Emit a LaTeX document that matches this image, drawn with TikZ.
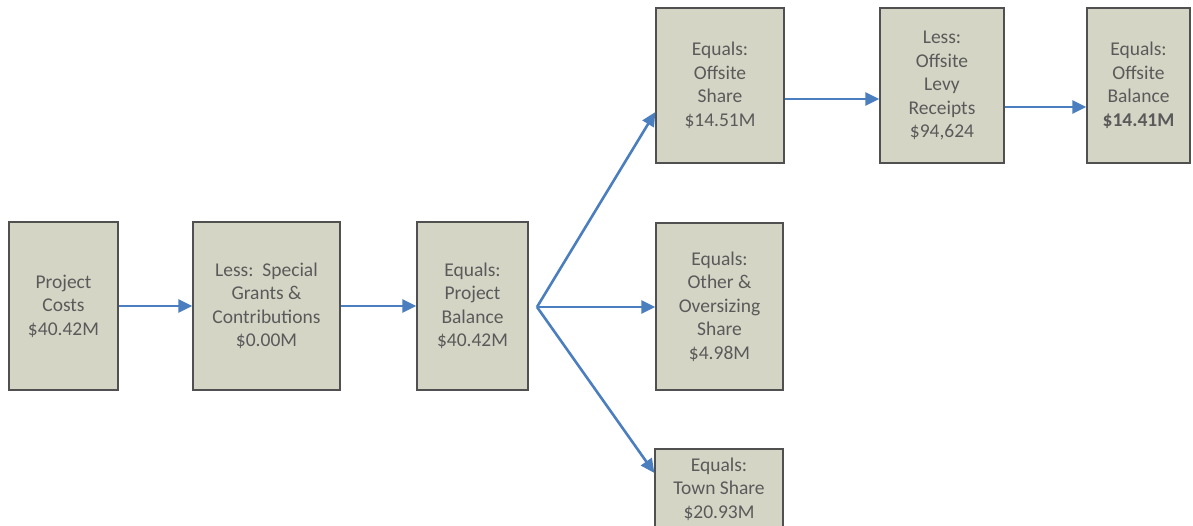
\documentclass[tikz,border=0pt]{standalone}
\usepackage{fontspec}
\setmainfont{Carlito}
\usetikzlibrary{arrows.meta}
\definecolor{boxfill}{RGB}{213,213,198}
\definecolor{boxline}{RGB}{80,80,80}
\definecolor{boxtext}{RGB}{90,90,90}
\definecolor{flow}{RGB}{74,126,190}
\tikzset{
  stage/.style={draw=boxline, line width=1.3pt, fill=boxfill, text=boxtext,
    align=center, inner sep=0pt,
    font=\fontsize{19.5pt}{23.5pt}\selectfont},
  flowarrow/.style={draw=flow, line width=2.6pt,
    -{Triangle[length=14pt,width=13pt]}}
}
\begin{document}
\begin{tikzpicture}[x=1pt,y=-1pt]
\clip (0,0) rectangle (1193,526);
\fill[white] (0,0) rectangle (1193,526);

% main row
\node[stage, minimum width=109pt, minimum height=168pt] (costs) at (63.5,306)
  {Project\\Costs\\\$40.42M};
\node[stage, minimum width=147pt, minimum height=168pt] (grants) at (266.5,306)
  {Less:\ \ Special\\Grants \&\\Contributions\\\$0.00M};
\node[stage, minimum width=111pt, minimum height=168pt] (balance) at (472.5,306)
  {Equals:\\Project\\Balance\\\$40.42M};

% offsite branch
\node[stage, minimum width=128pt, minimum height=155pt] (offshare) at (720,85.5)
  {Equals:\\Offsite\\Share\\\$14.51M};
\node[stage, minimum width=124pt, minimum height=155pt] (levy) at (942,85.5)
  {Less:\\Offsite\\Levy\\Receipts\\\$94,624};
\node[stage, minimum width=103pt, minimum height=155pt] (offbal) at (1138.5,85.5)
  {Equals:\\Offsite\\Balance\\\textbf{\$14.41M}};

% other shares
\node[stage, minimum width=127pt, minimum height=167pt] (other) at (719.5,306.5)
  {Equals:\\Other \&\\Oversizing\\Share\\\$4.98M};
\node[stage, minimum width=128pt, minimum height=80pt] (town) at (719,489)
  {Equals:\\Town Share\\\$20.93M};

\coordinate (split) at (537,307);

\draw[flowarrow] (costs) -- (grants);
\draw[flowarrow] (grants) -- (balance);
\draw[flowarrow] (split) -- ([yshift=-26.5pt]offshare.west);
\draw[flowarrow] (split) -- (other.west |- split);
\draw[flowarrow] (split) -- ([yshift=16pt]town.west);
\draw[flowarrow] ([yshift=-13.5pt]offshare.east) -- ([yshift=-13.5pt]levy.west);
\draw[flowarrow] ([yshift=-21.5pt]levy.east) -- ([yshift=-21.5pt]offbal.west);
\end{tikzpicture}
\end{document}
